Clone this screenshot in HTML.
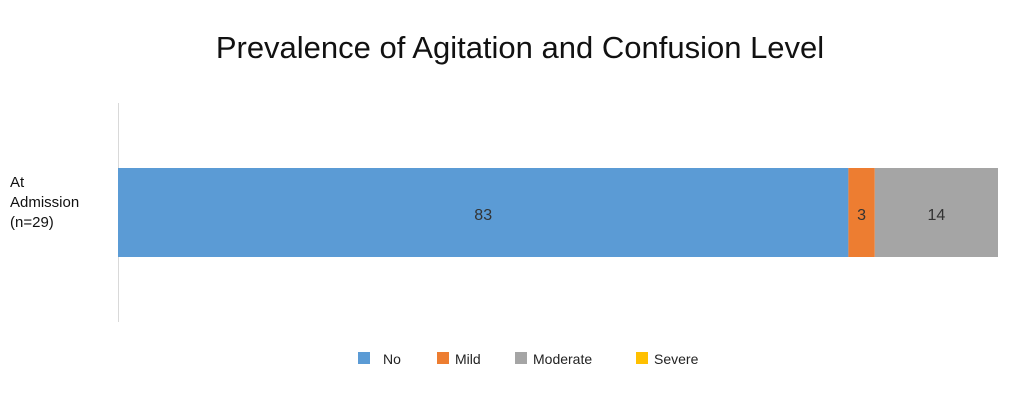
<!DOCTYPE html>
<html><head><meta charset="utf-8"><style>
body{margin:0;background:#fff;font-family:"Liberation Sans",Arial,sans-serif}
</style></head><body>
<svg width="1024" height="403" xmlns="http://www.w3.org/2000/svg">
<text x="520" y="58" text-anchor="middle" font-size="31" fill="#111">Prevalence of Agitation and Confusion Level</text>
<line x1="118.5" y1="103" x2="118.5" y2="322" stroke="#d9d9d9" stroke-width="1"/>
<g font-size="15" fill="#111">
<text x="10" y="187">At</text><text x="10" y="207">Admission</text><text x="10" y="227">(n=29)</text>
</g>
<g id="bars"></g>
<g id="legend"></g>
</svg>
<script>
const categories=["At Admission (n=29)"];
const seriesNames=["No","Mild","Moderate","Severe"];
const seriesValues=[83,3,14,0];
const colors=["#5b9bd5","#ed7d31","#a5a5a5","#ffc000"];
const NS="http://www.w3.org/2000/svg";
const x0=118,x1=998;
function xScale(v){return x0+v/100*(x1-x0);}
const bars=document.getElementById('bars');
let acc=0;
seriesValues.forEach((v,i)=>{
  if(v<=0){acc+=v;return;}
  const r=document.createElementNS(NS,'rect');
  r.setAttribute('x',xScale(acc));r.setAttribute('y',168);
  r.setAttribute('width',xScale(acc+v)-xScale(acc));r.setAttribute('height',89);
  r.setAttribute('fill',colors[i]);
  
  
  bars.appendChild(r);
  const t=document.createElementNS(NS,'text');
  t.setAttribute('x',(xScale(acc)+xScale(acc+v))/2);t.setAttribute('y',220);
  t.setAttribute('text-anchor','middle');t.setAttribute('font-size','16');t.setAttribute('fill','#333');
  t.textContent=v;
  
  
  bars.appendChild(t);
  acc+=v;
});
const lg=document.getElementById('legend');
const lx=[358,437,515,636];
seriesNames.forEach((n,i)=>{
  const g=document.createElementNS(NS,'g');
  
  
  const r=document.createElementNS(NS,'rect');
  r.setAttribute('x',lx[i]);r.setAttribute('y',352);r.setAttribute('width',12);r.setAttribute('height',12);
  r.setAttribute('fill',colors[i]);g.appendChild(r);
  const t=document.createElementNS(NS,'text');
  t.setAttribute('x',lx[i]+(i==0?25:18));t.setAttribute('y',364);t.setAttribute('font-size','14');t.setAttribute('fill','#222');
  t.textContent=n;g.appendChild(t);
  lg.appendChild(g);
});
</script>
</body></html>
